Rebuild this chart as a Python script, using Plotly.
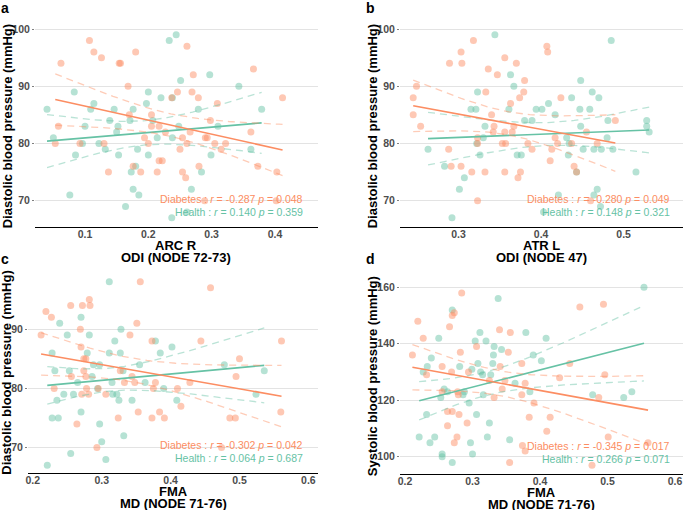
import numpy as np
import plotly.graph_objects as go

# ---------------- data ----------------
# Panel a: ARC R (ODI NODE 72-73) vs Diastolic BP
a_dia_x = [0.062,0.058,0.053,0.107,0.114,0.126,0.154,0.156,0.18,0.168,0.17,0.092,0.13,0.137,0.176,0.188,0.194,0.2,0.205,0.205,0.217,0.214,0.217,0.222,0.227,0.237,0.246,0.261,0.271,0.269,0.279,0.254,0.25,0.254,0.259,0.261,0.266,0.28,0.29,0.293,0.298,0.305,0.309,0.315,0.322,0.289,0.366,0.362,0.373,0.403,0.402,0.412]
a_dia_y = [94,83,80,98,96,95,94,94,96,90,85,80,80,75,76,75,81,80,85,83,83,75,77,77,82,88,89,97,92,89,88,81,79,75,74,80,82,76,81,81,84,80,87,79,80,70,93,82,76,75,70,88]
a_hea_x = [0.04,0.05,0.076,0.083,0.085,0.1,0.096,0.109,0.114,0.122,0.132,0.139,0.146,0.15,0.152,0.153,0.164,0.173,0.171,0.176,0.176,0.18,0.183,0.185,0.2,0.197,0.2,0.207,0.214,0.22,0.233,0.244,0.238,0.251,0.248,0.238,0.237,0.268,0.279,0.284,0.297,0.299,0.31,0.343,0.362,0.379,0.261]
a_hea_y = [86,81,71,89,78,83,80,86,87,80,79,84,86,82,83,78,69,75,84,86,72,76,79,71,89,87,78,84,81,88,98,99,88,91,83,81,67,72,86,75,92,78,83,90,79,86,68]

# Panel b: ATR L (ODI NODE 47) vs Diastolic BP
b_dia_x = [0.245,0.245,0.249,0.254,0.288,0.289,0.291,0.303,0.304,0.303,0.316,0.318,0.323,0.323,0.323,0.333,0.336,0.332,0.34,0.342,0.343,0.347,0.353,0.357,0.356,0.356,0.356,0.363,0.365,0.367,0.37,0.372,0.374,0.375,0.379,0.38,0.384,0.389,0.407,0.408,0.411,0.413,0.417,0.42,0.424,0.437,0.44,0.443,0.455,0.46,0.468,0.49]
b_dia_y = [85,88,90,83,79,94,76,96,94,76,75,98,80,81,70,89,93,75,85,82,83,92,80,80,82,95,75,87,82,83,94,74,88,75,89,91,80,79,97,96,77,79,81,80,88,80,76,75,82,70,80,84]
b_hea_x = [0.263,0.283,0.292,0.301,0.307,0.315,0.321,0.323,0.322,0.326,0.33,0.332,0.344,0.361,0.363,0.367,0.371,0.376,0.38,0.389,0.394,0.401,0.403,0.409,0.417,0.421,0.431,0.433,0.434,0.437,0.443,0.447,0.448,0.448,0.451,0.459,0.462,0.464,0.464,0.468,0.47,0.473,0.472,0.48,0.481,0.485,0.487,0.515,0.528,0.528,0.531]
b_hea_y = [79,76,67,72,74,86,86,89,80,78,81,83,99,86,92,90,78,78,84,84,86,86,68,87,85,71,81,78,80,88,75,86,91,83,79,86,89,79,71,72,88,79,69,81,84,98,79,75,84,83,82]

# Panel c: FMA (MD NODE 71-76) vs Diastolic BP
c_dia_x = [0.212,0.219,0.227,0.231,0.255,0.256,0.264,0.269,0.27,0.272,0.274,0.274,0.277,0.277,0.278,0.281,0.282,0.283,0.271,0.293,0.295,0.306,0.324,0.327,0.333,0.341,0.344,0.348,0.351,0.353,0.356,0.373,0.373,0.375,0.378,0.384,0.391,0.41,0.415,0.428,0.444,0.458,0.486,0.494,0.495,0.5,0.56,0.561,0.474]
c_dia_y = [89,93,92,80,94,82,74,90,87,94,83,85,85,82,80,79,95,94,79,70,80,79,75,83,81,89,82,81,91,76,98,88,75,80,81,76,75,80,77,81,88,97,75,75,82,85,76,88,70]
c_hea_x = [0.221,0.228,0.228,0.232,0.235,0.237,0.239,0.245,0.25,0.253,0.255,0.259,0.265,0.27,0.27,0.279,0.282,0.286,0.288,0.294,0.297,0.297,0.3,0.306,0.311,0.311,0.315,0.316,0.319,0.322,0.325,0.327,0.328,0.331,0.332,0.344,0.355,0.363,0.378,0.385,0.39,0.402,0.409,0.478,0.524,0.536]
c_hea_y = [67,86,75,83,78,75,91,79,89,83,69,79,81,76,92,86,89,82,84,80,84,74,71,68,98,86,81,79,88,79,78,86,90,83,72,78,84,81,88,86,80,87,78,84,79,83]

# Panel d: FMA (MD NODE 71-76) vs Systolic BP
d_dia_x = [0.211,0.219,0.227,0.232,0.255,0.255,0.263,0.263,0.266,0.269,0.27,0.273,0.27,0.273,0.277,0.278,0.279,0.28,0.282,0.284,0.292,0.294,0.306,0.325,0.332,0.34,0.341,0.344,0.348,0.353,0.356,0.355,0.373,0.373,0.374,0.378,0.378,0.391,0.384,0.41,0.415,0.429,0.444,0.459,0.477,0.487,0.494,0.496,0.501,0.56]
d_dia_y = [136,148,142,129,132,123,116,111,146,130,150,151,116,105,107,123,122,115,137,158,112,130,139,127,121,145,132,124,127,137,144,98,133,122,104,102,126,119,114,109,114,128,133,153,97,121,154,129,107,105]
d_hea_x = [0.221,0.227,0.233,0.232,0.237,0.239,0.244,0.25,0.253,0.255,0.255,0.258,0.263,0.27,0.27,0.281,0.286,0.288,0.295,0.297,0.299,0.3,0.304,0.306,0.308,0.311,0.312,0.315,0.316,0.32,0.325,0.322,0.327,0.33,0.331,0.332,0.338,0.343,0.355,0.363,0.379,0.385,0.39,0.402,0.409,0.478,0.524,0.536,0.554]
d_hea_y = [107,130,132,115,105,135,107,142,121,101,100,124,123,98,152,132,122,123,119,105,131,101,141,115,133,144,130,129,122,141,112,107,129,133,136,139,156,138,106,126,144,123,136,134,142,122,121,123,160]

x_titles = ["ARC R", "ATR L", "FMA", "FMA"]
x_subtitles = ["ODI (NODE 72-73)", "ODI (NODE 47)", "MD (NODE 71-76)", "MD (NODE 71-76)"]
y_titles = ["Diastolic blood pressure (mmHg)", "Diastolic blood pressure (mmHg)",
            "Diastolic blood pressure (mmHg)", "Systolic blood pressure (mmHg)"]
panel_tags = ["a", "b", "c", "d"]
dia_stats = ["r</i> = -0.287 <i>p</i> = 0.048", "r</i> = -0.280 <i>p</i> = 0.049",
             "r</i> = -0.302 <i>p</i> = 0.042", "r</i> = -0.345 <i>p</i> = 0.017"]
hea_stats = ["r</i> = 0.140 <i>p</i> = 0.359", "r</i> = 0.148 <i>p</i> = 0.321",
             "r</i> = 0.064 <i>p</i> = 0.687", "r</i> = 0.266 <i>p</i> = 0.071"]
x_ticks = [[0.1, 0.2, 0.3, 0.4], [0.3, 0.4, 0.5], [0.2, 0.3, 0.4, 0.5, 0.6], [0.2, 0.3, 0.4, 0.5, 0.6]]
y_ticks = [[70, 80, 90, 100], [70, 80, 90, 100], [70, 80, 90], [100, 120, 140, 160]]

# ---------------- layout geometry (pixels) ----------------
W, H = 685, 510
ORANGE = "#FC8D62"
GREEN = "#66C2A5"
ORANGE_A = "rgba(252,141,98,0.48)"
GREEN_A = "rgba(102,194,165,0.48)"
ORANGE_D = "rgba(252,141,98,0.45)"
GREEN_D = "rgba(102,194,165,0.45)"

# (left, right, top, bottom) of each plot area in pixels
boxes = [(35, 318, 25.6, 227), (400, 683, 25.6, 227), (28, 318, 272.4, 473), (400, 683, 278.4, 474)]
xranges = [[0.021, 0.468], [0.229, 0.572], [0.193, 0.614], [0.1926, 0.6118]]
yranges = [[65.4, 100.6], [65.4, 100.6], [65.7, 99.6], [93.9, 163.15]]
ytitle_x = [7, 372, 7, 372]
tag_pos = [(5, 8), (370, 8), (5, 259), (370, 259)]
stat_right = [305, 672, 305, 672]

panels = [
    (a_dia_x, a_dia_y, a_hea_x, a_hea_y),
    (b_dia_x, b_dia_y, b_hea_x, b_hea_y),
    (c_dia_x, c_dia_y, c_hea_x, c_hea_y),
    (d_dia_x, d_dia_y, d_hea_x, d_hea_y),
]


def px_x(p):
    return p / W


def px_y(p):
    return 1 - p / H


def lm_fit(x, y, n_pts=60):
    x = np.asarray(x, float)
    y = np.asarray(y, float)
    n = len(x)
    b1, b0 = np.polyfit(x, y, 1)
    xs = np.linspace(x.min(), x.max(), n_pts)
    yhat = b0 + b1 * xs
    resid = y - (b0 + b1 * x)
    s = np.sqrt(np.sum(resid ** 2) / (n - 2))
    sxx = np.sum((x - x.mean()) ** 2)
    t = 2.01
    se = s * np.sqrt(1.0 / n + (xs - x.mean()) ** 2 / sxx)
    return xs, yhat, yhat - t * se, yhat + t * se


fig = go.Figure()
annotations = []
layout_axes = {}
tick_font = dict(family="Liberation Sans", size=10.5, color="#4D4D4D", weight="bold")

for i, (dx, dy, hx, hy) in enumerate(panels):
    k = "" if i == 0 else str(i + 1)
    xa, ya = "x" + k, "y" + k
    l, r, t, b = boxes[i]

    # points
    fig.add_trace(go.Scatter(x=hx, y=hy, mode="markers", xaxis=xa, yaxis=ya,
                             marker=dict(size=7, color=GREEN_A, line=dict(width=0)),
                             showlegend=False, hoverinfo="skip"))
    fig.add_trace(go.Scatter(x=dx, y=dy, mode="markers", xaxis=xa, yaxis=ya,
                             marker=dict(size=7, color=ORANGE_A, line=dict(width=0)),
                             showlegend=False, hoverinfo="skip"))
    # fits
    for gx, gy, col, dcol in [(hx, hy, GREEN, GREEN_D), (dx, dy, ORANGE, ORANGE_D)]:
        xs, yh, lo, hi = lm_fit(gx, gy)
        for band in (lo, hi):
            fig.add_trace(go.Scatter(x=xs, y=band, mode="lines", xaxis=xa, yaxis=ya,
                                     line=dict(color=dcol, width=1.3, dash="7px,5px"),
                                     showlegend=False, hoverinfo="skip"))
        fig.add_trace(go.Scatter(x=xs, y=yh, mode="lines", xaxis=xa, yaxis=ya,
                                 line=dict(color=col, width=1.6),
                                 showlegend=False, hoverinfo="skip"))

    layout_axes["xaxis" + k] = dict(
        domain=[px_x(l), px_x(r)], anchor=ya, range=xranges[i], automargin=False,
        tickvals=x_ticks[i], ticktext=[f"{v:.1f}" for v in x_ticks[i]],
        showgrid=False, zeroline=False, showline=True, linecolor="black", linewidth=1.3,
        ticks="", tickfont=tick_font, ticklabelstandoff=-3,
    )
    layout_axes["yaxis" + k] = dict(
        domain=[px_y(b), px_y(t)], anchor=xa, range=yranges[i], automargin=False,
        tickvals=y_ticks[i],
        showgrid=True, gridcolor="#E3E3E3", gridwidth=1, zeroline=False, showline=False,
        ticks="outside", ticklen=2, tickcolor="#7f7f7f", tickfont=tick_font,
    )

    cx = (l + r) / 2
    # x titles
    annotations.append(dict(xref="paper", yref="paper", x=px_x(cx), y=px_y(b + 18),
                            text="<b>" + x_titles[i] + "</b>", showarrow=False,
                            xanchor="center", yanchor="middle",
                            font=dict(family="Liberation Sans", size=13, color="black")))
    annotations.append(dict(xref="paper", yref="paper", x=px_x(cx), y=px_y(b + 30),
                            text="<b>" + x_subtitles[i] + "</b>", showarrow=False,
                            xanchor="center", yanchor="middle",
                            font=dict(family="Liberation Sans", size=13, color="black")))
    # y title
    annotations.append(dict(xref="paper", yref="paper", x=px_x(ytitle_x[i]), y=px_y((t + b) / 2),
                            text="<b>" + y_titles[i] + "</b>", showarrow=False, textangle=-90,
                            xanchor="center", yanchor="middle",
                            font=dict(family="Liberation Sans", size=13, color="black")))
    # panel tag
    annotations.append(dict(xref="paper", yref="paper", x=px_x(tag_pos[i][0]), y=px_y(tag_pos[i][1]),
                            text="<b>" + panel_tags[i] + "</b>", showarrow=False,
                            xanchor="center", yanchor="middle",
                            font=dict(family="Liberation Sans", size=14, color="black")))
    # stats text
    annotations.append(dict(xref="paper", yref="paper", x=px_x(stat_right[i]), y=px_y(b - 28),
                            text="Diabetes : <i>" + dia_stats[i], showarrow=False,
                            xanchor="right", yanchor="middle",
                            font=dict(family="Liberation Sans", size=10.5, color=ORANGE)))
    annotations.append(dict(xref="paper", yref="paper", x=px_x(stat_right[i]), y=px_y(b - 15),
                            text="Health : <i>" + hea_stats[i], showarrow=False,
                            xanchor="right", yanchor="middle",
                            font=dict(family="Liberation Sans", size=10.5, color=GREEN)))

fig.update_layout(
    template="none",
    width=W, height=H, margin=dict(l=0, r=0, t=0, b=0, pad=0),
    paper_bgcolor="white", plot_bgcolor="white",
    annotations=annotations, **layout_axes,
)

fig.write_html("out.html", config={"displayModeBar": False},
               post_script="document.body.style.margin='0';document.body.style.overflow='hidden';")
